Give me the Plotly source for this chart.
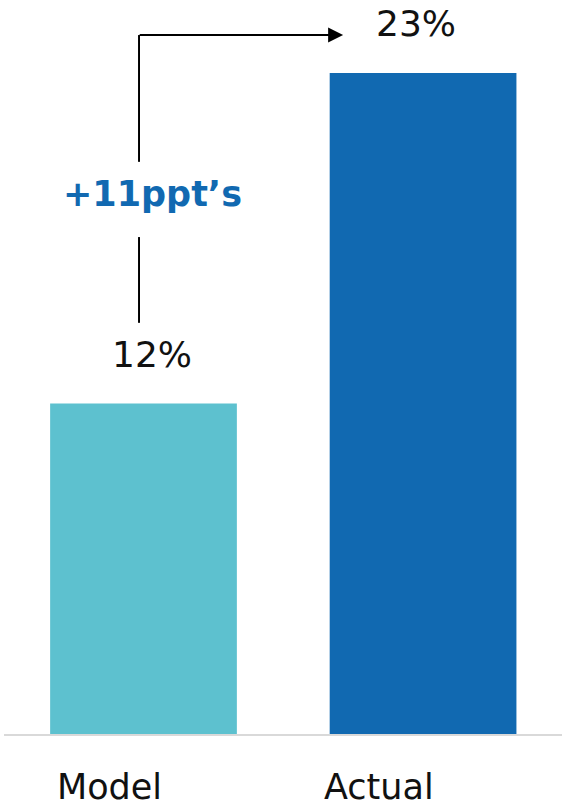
import plotly.graph_objects as go

categories = ["Model", "Actual"]
values = [11.6, 23.2]
value_labels = ["12%", "23%"]
bar_colors = ["#5DC1CF", "#1169B1"]
delta_label = "+11ppt\u2019s"

FONT = "'DejaVu Sans', sans-serif"
TEXT_COLOR = "#111111"

fig = go.Figure()
fig.add_trace(go.Bar(
    x=categories, y=values,
    marker=dict(color=bar_colors, line=dict(width=0)),
    width=0.668,
    hoverinfo="skip",
))

ymax = 25.76

# value labels above bars
value_xshift = [8, -7]
for c, v, t, xs in zip(categories, values, value_labels, value_xshift):
    fig.add_annotation(x=c, y=v, xref="x", yref="y", text=t,
                       showarrow=False, xshift=xs, yshift=49, yanchor="middle",
                       font=dict(family=FONT, size=36, color=TEXT_COLOR))

# category labels (set left of bar centres, as in the original)
cat_xshift = [-34, -44]
for c, xs in zip(categories, cat_xshift):
    fig.add_annotation(x=c, y=0, xref="x", yref="y", text=c, showarrow=False,
                       xshift=xs, yshift=-53, yanchor="middle",
                       font=dict(family=FONT, size=35, color=TEXT_COLOR))

# connector arrow: vertical from above Model label up, then right toward Actual label
xv = -0.016
y_low0, y_low1 = 14.43, 17.44
y_up0, y_top = 20.08, 24.53
x_tip = 0.714
line_style = dict(color="#000000", width=2)
fig.add_shape(type="line", xref="x", yref="y", x0=xv, x1=xv, y0=y_low0, y1=y_low1, line=line_style)
fig.add_shape(type="line", xref="x", yref="y", x0=xv, x1=xv, y0=y_up0, y1=y_top, line=line_style)
fig.add_annotation(x=x_tip, y=y_top, ax=xv - 0.003, ay=y_top, xref="x", yref="y", axref="x", ayref="y",
                   text="", showarrow=True, arrowhead=2, arrowsize=1.5, arrowwidth=2,
                   arrowcolor="#000000", standoff=0)

# delta label
fig.add_annotation(x=xv, y=(y_low1 + y_up0) / 2, xref="x", yref="y", text="<b>" + delta_label + "</b>",
                   showarrow=False, xshift=13, yshift=5, yanchor="middle",
                   font=dict(family=FONT, size=35, color="#1169B1"))

fig.update_layout(
    width=562, height=807,
    margin=dict(l=4, r=0, t=0, b=73),
    paper_bgcolor="white", plot_bgcolor="white",
    showlegend=False,
    bargap=0.333,
    xaxis=dict(range=[-0.499, 1.497], showticklabels=False, ticks="", showgrid=False,
               showline=True, linecolor="#D9D9D9", linewidth=2, zeroline=False, fixedrange=True),
    yaxis=dict(range=[0, ymax], visible=False, showgrid=False, zeroline=False, fixedrange=True),
)

fig.write_html("out.html", config={"displayModeBar": False})
